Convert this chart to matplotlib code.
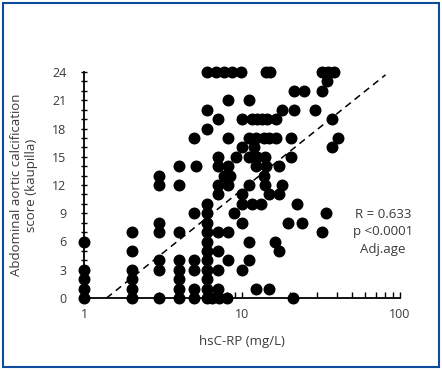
import matplotlib
matplotlib.use('Agg')
import numpy as np
import matplotlib.pyplot as plt
import matplotlib as mpl
from matplotlib.patches import Rectangle
from matplotlib.ticker import MultipleLocator, LogLocator, NullFormatter, FixedLocator

# hsC-RP (mg/L) and Kauppila score
crp = [
    6.0, 6.8, 7.7, 8.7, 9.8, 14.1, 15.1, 32.3, 34.8, 38.2,      # 24
    34.3,                                                       # 23
    21.2, 24.7, 32.1,                                           # 22
    8.1, 11.0,                                                  # 21
    6.0, 18.0, 21.2, 28.9,                                      # 20
    7.0, 10.0, 11.6, 12.4, 13.3, 14.5, 16.3, 37.0,              # 19
    6.0,                                                        # 18
    5.0, 8.1, 11.0, 12.2, 13.8, 14.8, 16.3, 20.5, 40.3,         # 17
    10.0, 11.9, 37.3,                                           # 16
    7.1, 9.1, 11.0, 12.5, 14.0, 20.5,                           # 15
    4.0, 5.1, 7.1, 8.1, 12.2, 14.1, 17.1,                       # 14
    3.0, 7.7, 8.4, 13.8,                                        # 13
    3.0, 4.0, 7.0, 8.1, 11.0, 14.0, 18.0,                       # 12
    7.0, 10.0, 14.8, 17.1,                                      # 11
    6.0, 10.0, 11.6, 13.1, 22.2,                                # 10
    5.0, 6.0, 8.9, 33.9,                                        # 9
    3.0, 6.0, 10.0, 19.5, 24.1,                                 # 8
    2.0, 3.0, 4.0, 6.0, 7.0, 8.1, 32.1,                         # 7
    1.0, 6.0, 11.0, 16.1,                                       # 6
    2.0, 6.0, 7.0, 17.1,                                        # 5
    3.0, 4.0, 5.0, 6.0, 8.1, 11.0,                              # 4
    1.0, 2.0, 3.0, 4.0, 5.0, 6.0, 7.0, 10.0,                    # 3
    1.0, 2.0, 4.0, 6.0,                                         # 2
    1.0, 2.0, 4.0, 5.0, 6.0, 7.0, 12.2, 14.8,                   # 1
    1.0, 2.0, 3.0, 4.0, 5.0, 6.0, 6.5, 7.2, 8.0, 21.0,          # 0
]
score = ([24] * 10 + [23] + [22] * 3 + [21] * 2 + [20] * 4 + [19] * 8 + [18]
         + [17] * 9 + [16] * 3 + [15] * 6 + [14] * 7 + [13] * 4 + [12] * 7
         + [11] * 4 + [10] * 5 + [9] * 4 + [8] * 5 + [7] * 7 + [6] * 4
         + [5] * 4 + [4] * 6 + [3] * 8 + [2] * 4 + [1] * 8 + [0] * 10)

trend_x = [1.39, 81.0]
trend_y = [0.0, 23.7]

stats_text = 'R = 0.633\np <0.0001\nAdj.age'

txt = '#3a3a3a'
mpl.rcParams['font.family'] = ['Open Sans', 'DejaVu Sans']

fig = plt.figure(figsize=(4.42, 3.71), dpi=100)
ax = fig.add_axes([84 / 442, 73 / 371, 316 / 442, 226 / 371])

ax.plot(trend_x, trend_y, color='black', lw=1.1, dashes=(4.5, 3.2), zorder=2)
ax.plot(crp, score, 'o', color='black', ms=7.6, mec='black', clip_on=False, zorder=3)

ax.set_xscale('log')
ax.set_xlim(1, 100)
ax.set_ylim(0, 24)
ax.xaxis.set_major_locator(FixedLocator([1, 10, 100]))
ax.set_xticklabels(['1', '10', '100'])
ax.xaxis.set_minor_locator(LogLocator(base=10, subs=np.arange(2, 10)))
ax.xaxis.set_minor_formatter(NullFormatter())
ax.yaxis.set_major_locator(MultipleLocator(3))
ax.yaxis.set_minor_locator(MultipleLocator(1))

for s in ['top', 'right']:
    ax.spines[s].set_visible(False)
for s in ['left', 'bottom']:
    ax.spines[s].set_linewidth(1.3)

ax.tick_params(axis='x', which='both', direction='in', length=4, width=1.0,
               pad=7, labelsize=9, labelcolor=txt)
ax.tick_params(axis='y', which='both', direction='inout', length=5, width=1.0,
               pad=10, labelsize=9, labelcolor=txt)

ax.set_xlabel('hsC-RP (mg/L)', fontsize=9.5, color=txt, labelpad=10)
ax.set_ylabel('Abdominal aortic calcification\nscore (kaupilla)', fontsize=9.5,
              color=txt, labelpad=10, linespacing=1.2)

ax.text(383 / 442, 1 - 232 / 371, stats_text, transform=fig.transFigure,
        ha='center', va='center', fontsize=9.5, color=txt, linespacing=1.45)

fig.patches.append(Rectangle((2.7 / 442, 3.7 / 371), 436.6 / 442, 364.6 / 371,
                             transform=fig.transFigure, fill=False,
                             edgecolor='#0d4c9a', lw=1.5))

fig.savefig('out.png', dpi=100)
